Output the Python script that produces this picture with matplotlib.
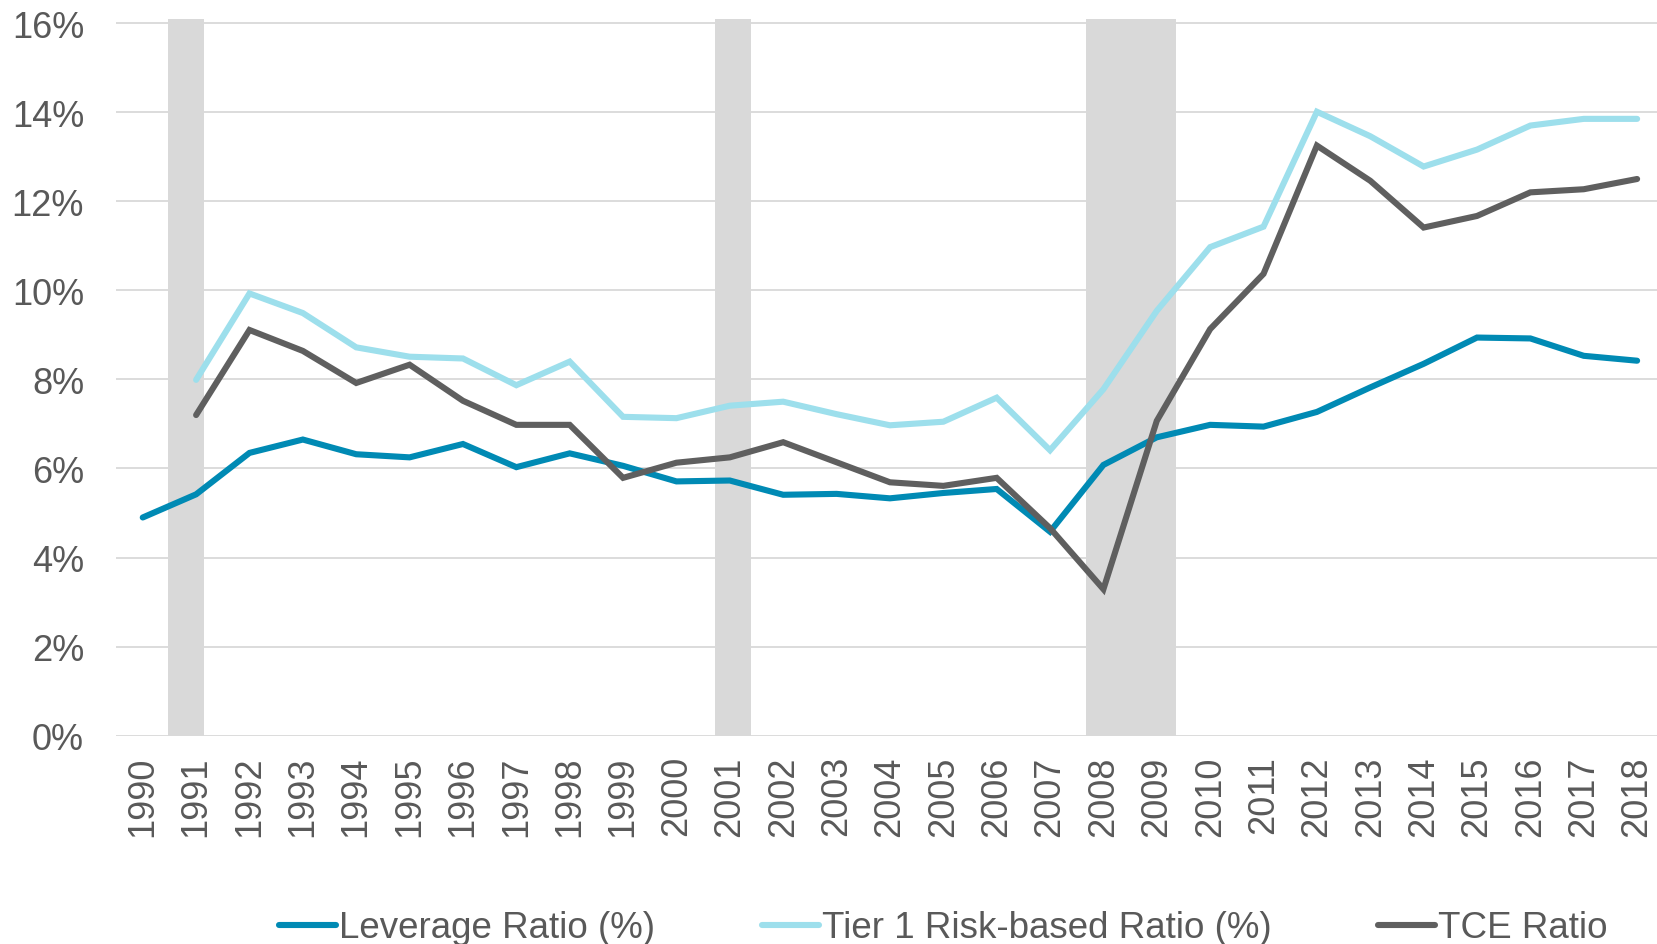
"""Bank capital ratios 1990-2018 with recession shading."""
import matplotlib
matplotlib.use("Agg")
import matplotlib.pyplot as plt
import numpy as np

YEARS = list(range(1990, 2019))

LEVERAGE = [4.90, 5.42, 6.35, 6.65, 6.32, 6.25, 6.55, 6.03, 6.34, 6.06,
            5.71, 5.73, 5.41, 5.43, 5.33, 5.45, 5.54, 4.58, 6.08, 6.70,
            6.98, 6.94, 7.27, 7.82, 8.35, 8.94, 8.92, 8.53, 8.42]

TIER1 = [np.nan, 7.99, 9.93, 9.49, 8.72, 8.51, 8.47, 7.87, 8.40, 7.16,
         7.13, 7.41, 7.50, 7.22, 6.97, 7.05, 7.59, 6.41, 7.78, 9.54,
         10.97, 11.43, 14.01, 13.46, 12.78, 13.16, 13.70, 13.85, 13.85]

TCE = [np.nan, 7.20, 9.11, 8.64, 7.92, 8.33, 7.52, 6.98, 6.98, 5.79,
       6.13, 6.25, 6.59, 6.14, 5.69, 5.61, 5.79, 4.66, 3.29, 7.07,
       9.13, 10.37, 13.25, 12.46, 11.41, 11.67, 12.20, 12.27, 12.50]

# recession spans, in year-index units on the category axis
REC_START = [0.47, 10.72, 17.68]
REC_END = [1.15, 11.40, 19.36]

TEXT = "#595959"
GRID = "#D9D9D9"

plt.rcParams["font.family"] = ["Liberation Sans", "DejaVu Sans"]

fig = plt.figure(figsize=(16.58, 9.45), dpi=100)
ax = fig.add_axes([0.070, 0.2204, 0.9335, 0.7588])

x = np.arange(len(YEARS))

for s, e in zip(REC_START, REC_END):
    ax.axvspan(s, e, color=GRID, lw=0, zorder=1)

ax.plot(x, LEVERAGE, color="#008AB4", lw=4.4, solid_capstyle="round",
        solid_joinstyle="miter", label="Leverage Ratio (%)", zorder=3)
ax.plot(x, TIER1, color="#9DDFEC", lw=4.4, solid_capstyle="round",
        solid_joinstyle="miter", label="Tier 1 Risk-based Ratio (%)", zorder=3)
ax.plot(x, TCE, color="#5F5F5F", lw=4.4, solid_capstyle="round",
        solid_joinstyle="miter", label="TCE Ratio", zorder=3)

ax.set_xlim(-0.5, len(YEARS) - 0.5)
ax.set_ylim(0, 16.1)
ax.set_xticks(x)
ax.set_xticklabels([str(y) for y in YEARS], rotation=90, fontsize=26, color=TEXT)
yt = np.arange(0, 17, 2)
ax.set_yticks(yt)
ax.set_yticklabels([f"{v}%" for v in yt], fontsize=26, color=TEXT)
ax.tick_params(axis="both", length=0)
ax.tick_params(axis="x", pad=14)
ax.tick_params(axis="y", pad=23)

ax.grid(axis="y", color=GRID, lw=1.3, zorder=0)
ax.set_axisbelow(True)
for sp in ax.spines.values():
    sp.set_visible(False)

fig.legend(loc="center", bbox_to_anchor=(0.569, 0.017), ncol=3, frameon=False,
           fontsize=26.5, labelcolor=TEXT, handlelength=1.55, handletextpad=0.08,
           columnspacing=2.9, borderpad=0)

fig.savefig("out.png", dpi=100)
